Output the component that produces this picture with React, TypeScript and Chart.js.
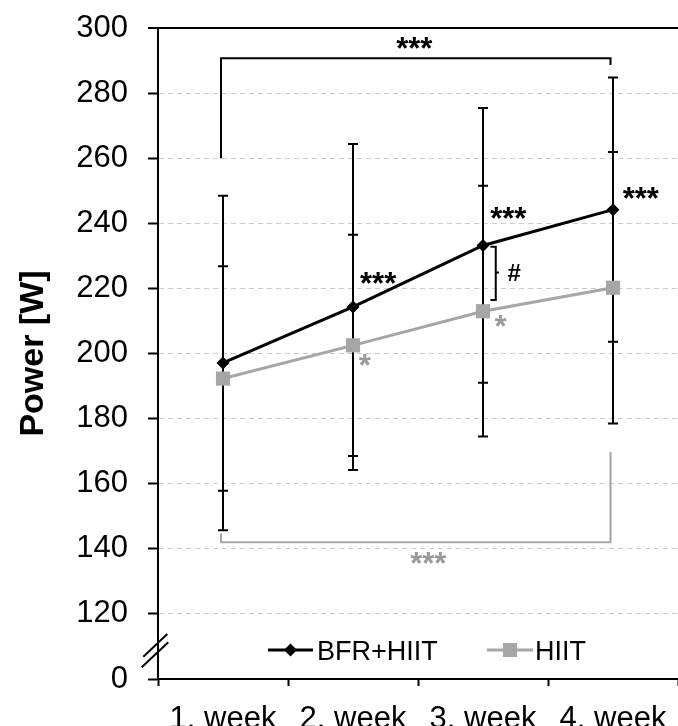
import React, { useEffect, useRef } from 'react';
import { Chart, registerables } from 'chart.js';

Chart.register(...registerables);
Chart.defaults.font.family = '"Liberation Sans", Arial, sans-serif';

const weeks = ['1. week', '2. week', '3. week', '4. week'];
const bfrMean = [197.1, 214.3, 233.2, 244.2];
const bfrSd = [51.4, 50.1, 42.2, 40.6];
const hiitMean = [192.3, 202.5, 213.0, 220.2];
const hiitSd = [34.5, 34.0, 38.5, 41.7];
const bfrSig = ['', '***', '***', '***'];
const hiitSig = ['', '*', '*', ''];
const yTickValues = [100, 120, 140, 160, 180, 200, 220, 240, 260, 280, 300];
const yTickLabels = ['0', '120', '140', '160', '180', '200', '220', '240', '260', '280', '300'];
const seriesNames = ['BFR+HIIT', 'HIIT'];

const BLACK = '#000000';
const GREY = '#a6a6a6';
const GREY_TXT = '#9a9a9a';
const FONT = '"Liberation Sans", Arial, sans-serif';
const STAR_SHIFT = 4;

function drawCentered(ctx: CanvasRenderingContext2D, text: string, cx: number, cy: number) {
  ctx.textAlign = 'left';
  ctx.textBaseline = 'alphabetic';
  const m = ctx.measureText(text);
  const x = cx - (m.actualBoundingBoxRight - m.actualBoundingBoxLeft) / 2;
  const y = cy + (m.actualBoundingBoxAscent - m.actualBoundingBoxDescent) / 2;
  ctx.fillText(text, x, y);
}

const annotationPlugin = {
  id: 'annotations',
  beforeDatasetsDraw(chart: any) {
    const { ctx } = chart;
    const x = chart.scales.x;
    const y = chart.scales.y;
    ctx.save();
    ctx.strokeStyle = BLACK;
    ctx.lineWidth = 2;
    const series: [number[], number[]][] = [
      [bfrMean, bfrSd],
      [hiitMean, hiitSd],
    ];
    series.forEach(([m, s]) => {
      m.forEach((v, i) => {
        const px = Math.round(x.getPixelForValue(i));
        const top = y.getPixelForValue(v + s[i]);
        const bot = y.getPixelForValue(v - s[i]);
        ctx.beginPath();
        ctx.moveTo(px, top);
        ctx.lineTo(px, bot);
        ctx.moveTo(px - 5, top);
        ctx.lineTo(px + 5, top);
        ctx.moveTo(px - 5, bot);
        ctx.lineTo(px + 5, bot);
        ctx.stroke();
      });
    });
    ctx.restore();
  },
  afterDatasetsDraw(chart: any) {
    const { ctx, chartArea } = chart;
    const x = chart.scales.x;
    const y = chart.scales.y;
    ctx.save();
    ctx.lineWidth = 2;
    ctx.lineJoin = 'miter';

    const xL = x.getPixelForValue(0) - 2;
    const xR = x.getPixelForValue(3) - 2.5;

    // top bracket (BFR+HIIT, week1 vs week4)
    ctx.strokeStyle = BLACK;
    ctx.beginPath();
    ctx.moveTo(xL, y.getPixelForValue(260));
    ctx.lineTo(xL, y.getPixelForValue(290.7));
    ctx.lineTo(xR, y.getPixelForValue(290.7));
    ctx.lineTo(xR, y.getPixelForValue(288.6));
    ctx.stroke();
    ctx.fillStyle = BLACK;
    ctx.font = `bold 31px ${FONT}`;
    drawCentered(ctx, '***', (xL + xR) / 2 - 5 + STAR_SHIFT, y.getPixelForValue(295.5));

    // bottom bracket (HIIT, week1 vs week4)
    ctx.strokeStyle = GREY;
    ctx.beginPath();
    ctx.moveTo(xL, y.getPixelForValue(144.7));
    ctx.lineTo(xL, y.getPixelForValue(142));
    ctx.lineTo(xR, y.getPixelForValue(142));
    ctx.lineTo(xR, y.getPixelForValue(169.8));
    ctx.stroke();
    ctx.fillStyle = GREY_TXT;
    drawCentered(ctx, '***', (xL + xR) / 2 + 9 + STAR_SHIFT, y.getPixelForValue(137.2));

    // significance marks near points
    const bfrOff = [[0, 0], [21.6, -29.4], [21.7, -32.7], [24.3, -16.6]];
    ctx.fillStyle = BLACK;
    bfrSig.forEach((s, i) => {
      if (!s) return;
      drawCentered(
        ctx,
        s,
        x.getPixelForValue(i) + bfrOff[i][0] + STAR_SHIFT,
        y.getPixelForValue(bfrMean[i]) + bfrOff[i][1],
      );
    });
    const hiitOff = [[0, 0], [8.3, 14.6], [14, 9.8], [0, 0]];
    ctx.fillStyle = GREY_TXT;
    hiitSig.forEach((s, i) => {
      if (!s) return;
      drawCentered(
        ctx,
        s,
        x.getPixelForValue(i) + hiitOff[i][0] + STAR_SHIFT,
        y.getPixelForValue(hiitMean[i]) + hiitOff[i][1],
      );
    });

    // # bracket at week 3 between groups
    const x2 = x.getPixelForValue(2);
    const bx = x2 + 12.75;
    const yT = y.getPixelForValue(232.8);
    const yB = y.getPixelForValue(216.4);
    const yM = y.getPixelForValue(224.9);
    ctx.strokeStyle = BLACK;
    ctx.beginPath();
    ctx.moveTo(x2 + 7.5, yT);
    ctx.lineTo(bx, yT);
    ctx.lineTo(bx, yB);
    ctx.lineTo(x2 + 7.5, yB);
    ctx.moveTo(bx, yM);
    ctx.lineTo(x2 + 16, yM);
    ctx.stroke();
    ctx.fillStyle = BLACK;
    ctx.font = `bold 24px ${FONT}`;
    drawCentered(ctx, '#', x2 + 31, yM);

    // legend (inside chart area)
    const ly = chartArea.bottom - 29;
    const base = chartArea.left;
    ctx.lineWidth = 3;
    ctx.strokeStyle = BLACK;
    ctx.beginPath();
    ctx.moveTo(base + 110, ly);
    ctx.lineTo(base + 155, ly);
    ctx.stroke();
    ctx.fillStyle = BLACK;
    ctx.beginPath();
    const dx = base + 132.5;
    ctx.moveTo(dx, ly - 6.5);
    ctx.lineTo(dx + 6.5, ly);
    ctx.lineTo(dx, ly + 6.5);
    ctx.lineTo(dx - 6.5, ly);
    ctx.closePath();
    ctx.fill();
    ctx.font = `27px ${FONT}`;
    ctx.textAlign = 'left';
    ctx.textBaseline = 'alphabetic';
    ctx.fillText(seriesNames[0], base + 159, ly + 9.5);

    ctx.strokeStyle = GREY;
    ctx.beginPath();
    ctx.moveTo(base + 329, ly);
    ctx.lineTo(base + 375, ly);
    ctx.stroke();
    ctx.fillStyle = GREY;
    ctx.fillRect(base + 352 - 7, ly - 7, 14, 14);
    ctx.fillStyle = BLACK;
    ctx.fillText(seriesNames[1], base + 377, ly + 9.5);

    // axis break marks
    const ax = chartArea.left;
    const ab = chartArea.bottom;
    ctx.lineWidth = 2;
    ctx.strokeStyle = BLACK;
    ctx.beginPath();
    ctx.moveTo(ax - 14.7, ab - 22.3);
    ctx.lineTo(ax + 9.3, ab - 45);
    ctx.moveTo(ax - 16.3, ab - 11.7);
    ctx.lineTo(ax + 10.3, ab - 36.7);
    ctx.stroke();

    ctx.restore();
  },
};

export default function App() {
  const ref = useRef<HTMLCanvasElement>(null);

  useEffect(() => {
    const canvas = ref.current;
    if (!canvas) return;
    const chart = new Chart(canvas, {
      type: 'line',
      data: {
        labels: weeks,
        datasets: [
          {
            label: seriesNames[0],
            data: bfrMean,
            borderColor: BLACK,
            backgroundColor: BLACK,
            borderWidth: 3,
            pointStyle: 'rectRot',
            pointRadius: 6.5,
            pointBackgroundColor: BLACK,
            pointBorderWidth: 0,
            tension: 0,
          },
          {
            label: seriesNames[1],
            data: hiitMean,
            borderColor: GREY,
            backgroundColor: GREY,
            borderWidth: 3,
            pointStyle: 'rect',
            pointRadius: 10,
            pointBackgroundColor: GREY,
            pointBorderWidth: 0,
            tension: 0,
          },
        ],
      },
      options: {
        responsive: false,
        animation: false,
        layout: { padding: { top: 28, right: 0, bottom: 0, left: 0 } },
        plugins: {
          legend: { display: false },
          tooltip: { enabled: false },
        },
        scales: {
          x: {
            type: 'category',
            offset: true,
            grid: {
              offset: true,
              drawOnChartArea: false,
              tickLength: 7,
              tickWidth: 2,
              tickColor: BLACK,
              color: BLACK,
            },
            border: { color: BLACK, width: 2 },
            ticks: {
              color: BLACK,
              font: { size: 31 },
              padding: 15,
              maxRotation: 0,
              autoSkip: false,
            },
            afterFit: (s: any) => {
              s.height = 47;
              s.paddingLeft = 0;
              s.paddingRight = 0;
            },
          },
          y: {
            type: 'linear',
            min: 100,
            max: 300,
            afterBuildTicks: (s: any) => {
              s.ticks = yTickValues.map((v) => ({ value: v }));
            },
            grid: {
              color: (c: any) => {
                const v = c.tick ? c.tick.value : 0;
                if (v === 300) return BLACK;
                if (v === 100) return 'rgba(0,0,0,0)';
                return '#cccccc';
              },
              lineWidth: (c: any) => (c.tick && c.tick.value === 300 ? 2 : 1),
              tickColor: BLACK,
              tickWidth: 2,
              tickLength: 10,
            },
            border: {
              color: BLACK,
              width: 2,
              dash: (c: any) => (c.tick && c.tick.value === 300 ? [] : [5, 4]),
            },
            ticks: {
              color: BLACK,
              font: { size: 31 },
              padding: 20,
              callback: (v: any) => {
                const i = yTickValues.indexOf(Number(v));
                return i >= 0 ? yTickLabels[i] : '';
              },
            },
            title: {
              display: true,
              text: 'Power [W]',
              color: BLACK,
              font: { size: 34, weight: 'bold' },
              padding: { top: 13, bottom: 0 },
            },
            afterFit: (s: any) => {
              s.width = 158;
              s.paddingTop = 0;
              s.paddingBottom = 0;
            },
          },
        },
      },
      plugins: [annotationPlugin],
    } as any);
    return () => chart.destroy();
  }, []);

  return (
    <div
      style={{
        position: 'fixed',
        left: 0,
        top: 0,
        width: 678,
        height: 726,
        overflow: 'hidden',
        background: '#fff',
      }}
    >
      <canvas ref={ref} width={688} height={726} style={{ width: 688, height: 726, display: 'block' }} />
    </div>
  );
}
